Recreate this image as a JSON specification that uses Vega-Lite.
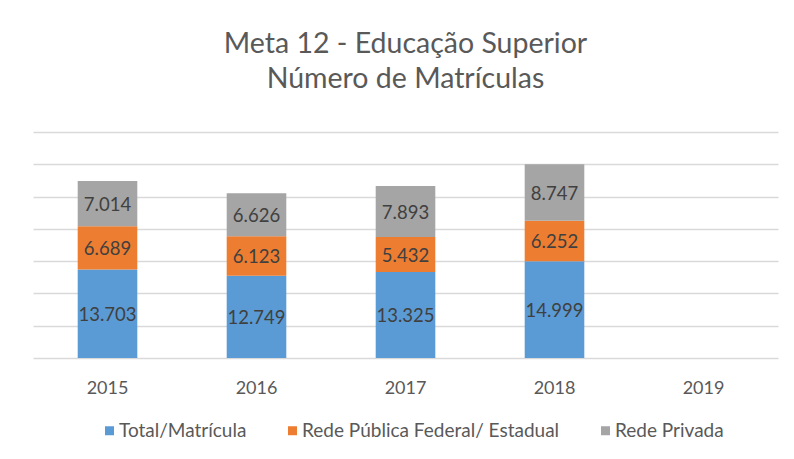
{
  "$schema": "https://vega.github.io/schema/vega-lite/v6.json",
  "width": 745,
  "height": 226,
  "autosize": {"type": "none"},
  "padding": {"left": 33, "top": 132, "right": 16, "bottom": 101},
  "background": "white",
  "title": {
    "text": ["Meta 12 - Educação Superior", "Número de Matrículas"],
    "anchor": "middle",
    "frame": "group",
    "font": "Lato",
    "fontSize": 28.5,
    "fontWeight": "normal",
    "color": "#595959",
    "lineHeight": 35,
    "offset": 16,
    "baseline": "alphabetic"
  },
  "data": {
    "values": [
      {"ano": "2015", "serie": "Total/Matrícula", "valor": 13703},
      {"ano": "2015", "serie": "Rede Pública Federal/ Estadual", "valor": 6689},
      {"ano": "2015", "serie": "Rede Privada", "valor": 7014},
      {"ano": "2016", "serie": "Total/Matrícula", "valor": 12749},
      {"ano": "2016", "serie": "Rede Pública Federal/ Estadual", "valor": 6123},
      {"ano": "2016", "serie": "Rede Privada", "valor": 6626},
      {"ano": "2017", "serie": "Total/Matrícula", "valor": 13325},
      {"ano": "2017", "serie": "Rede Pública Federal/ Estadual", "valor": 5432},
      {"ano": "2017", "serie": "Rede Privada", "valor": 7893},
      {"ano": "2018", "serie": "Total/Matrícula", "valor": 14999},
      {"ano": "2018", "serie": "Rede Pública Federal/ Estadual", "valor": 6252},
      {"ano": "2018", "serie": "Rede Privada", "valor": 8747}
    ]
  },
  "transform": [
    {"stack": "valor", "groupby": ["ano"], "sort": [{"field": "serie", "order": "descending"}], "as": ["v0", "v1"]},
    {"calculate": "(datum.v0 + datum.v1) / 2", "as": "meio"}
  ],
  "encoding": {
    "x": {
      "field": "ano",
      "type": "nominal",
      "scale": {"domain": ["2015", "2016", "2017", "2018", "2019"], "paddingInner": 0.6, "paddingOuter": 0.3},
      "axis": {
        "title": null,
        "labelAngle": 0,
        "ticks": false,
        "domain": false,
        "labelFont": "Lato",
        "labelFontSize": 18,
        "labelColor": "#595959",
        "labelPadding": 21
      }
    }
  },
  "layer": [
    {
      "mark": {"type": "bar"},
      "encoding": {
        "y": {
          "field": "v0",
          "type": "quantitative",
          "scale": {"domain": [0, 35000], "nice": false},
          "axis": {
            "title": null,
            "labels": false,
            "ticks": false,
            "domain": false,
            "grid": true,
            "gridColor": "#d9d9d9",
            "gridWidth": 1.5,
            "values": [0, 5000, 10000, 15000, 20000, 25000, 30000, 35000]
          }
        },
        "y2": {"field": "v1"},
        "color": {
          "field": "serie",
          "type": "nominal",
          "scale": {
            "domain": ["Total/Matrícula", "Rede Pública Federal/ Estadual", "Rede Privada"],
            "range": ["#5B9BD5", "#ED7D31", "#A5A5A5"]
          },
          "legend": {
            "title": null,
            "orient": "none",
            "direction": "horizontal",
            "legendX": 67,
            "legendY": 289,
            "symbolType": "square",
            "symbolSize": 81,
            "symbolStrokeWidth": 0,
            "labelFont": "Lato",
            "labelFontSize": 19,
            "labelColor": "#595959",
            "labelOffset": 0,
            "labelLimit": 500,
            "columnPadding": 36,
            "padding": 0
          }
        }
      }
    },
    {
      "mark": {"type": "text", "font": "Lato", "fontSize": 18.5, "color": "#404040", "baseline": "middle", "dy": 1.5},
      "encoding": {
        "y": {
          "field": "meio",
          "type": "quantitative",
          "scale": {"domain": [0, 35000], "nice": false},
          "axis": {
            "title": null,
            "labels": false,
            "ticks": false,
            "domain": false,
            "grid": true,
            "gridColor": "#d9d9d9",
            "gridWidth": 1.5,
            "values": [0, 5000, 10000, 15000, 20000, 25000, 30000, 35000]
          }
        },
        "text": {"field": "valor", "type": "quantitative", "format": ",d"}
      }
    }
  ],
  "config": {
    "view": {"stroke": null},
    "locale": {"number": {"decimal": ",", "thousands": ".", "grouping": [3], "currency": ["R$", ""]}}
  }
}
